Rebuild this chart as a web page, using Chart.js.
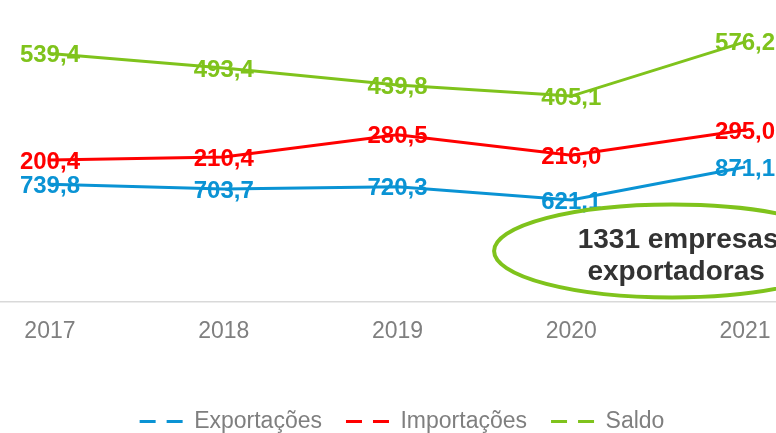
<!DOCTYPE html>
<html>
<head>
<meta charset="utf-8">
<script src="https://cdn.jsdelivr.net/npm/chart.js@4.4.1/dist/chart.umd.min.js"></script>
<style>
    html, body { margin: 0; padding: 0; background: #fff; }
</style>
</head>
<body>
<canvas id="myChart" width="776" height="433"></canvas>
<script>
//--- Dados
var anos = [2017, 2018, 2019, 2020, 2021];
var exportacoes = [739.8, 703.7, 720.3, 621.1, 871.1];
var importacoes = [200.4, 210.4, 280.5, 216.0, 295.0];
var saldo = [539.4, 493.4, 439.8, 405.1, 576.2];
var nomes = ['Exportações', 'Importações', 'Saldo'];
var cores = ['#0a93d4', '#ff0000', '#7fc31c'];
var nota = ['1331 empresas', 'exportadoras'];

var fonte = '"Liberation Sans", Arial, Helvetica, sans-serif';
var eixoBase = 302; // linha do eixo x
var padBaixo = -10, padDir = -28;

function pontos(valores) {
    return valores.map(function (v, i) { return { x: anos[i], y: v }; });
}

// rótulos de valor por cima das linhas
var rotulosPlugin = {
    id: 'rotulos',
    afterDatasetsDraw: function (chart) {
        var ctx = chart.ctx;
        ctx.save();
        ctx.font = 'bold 24px ' + fonte;
        ctx.textAlign = 'center';
        ctx.textBaseline = 'middle';
        chart.data.datasets.forEach(function (ds, i) {
            var meta = chart.getDatasetMeta(i);
            meta.data.forEach(function (pt, j) {
                ctx.fillStyle = ds.borderColor;
                ctx.fillText(ds.data[j].y.toFixed(1).replace('.', ','), pt.x, pt.y + 2);
            });
        });
        ctx.restore();
    }
};

// elipse com a nota das empresas
var notaPlugin = {
    id: 'nota',
    afterDraw: function (chart) {
        var ctx = chart.ctx;
        var x = chart.scales.x;
        var cx = x.getPixelForValue(2020.58);
        var cy = chart.chartArea.bottom - 51;
        ctx.save();
        ctx.beginPath();
        ctx.ellipse(cx, cy, 178, 46.5, 0, 0, Math.PI * 2);
        ctx.lineWidth = 4;
        ctx.strokeStyle = cores[2];
        ctx.stroke();
        ctx.fillStyle = '#333333';
        ctx.font = 'bold 28px ' + fonte;
        ctx.textAlign = 'center';
        ctx.textBaseline = 'middle';
        ctx.fillText(nota[0], cx + 6, cy - 11);
        ctx.fillText(nota[1], cx + 4, cy + 21);
        ctx.restore();
    }
};

var ctx = document.getElementById('myChart');
new Chart(ctx, {
    type: 'line',
    data: {
        datasets: [
            { label: nomes[0], data: pontos(exportacoes), borderColor: cores[0], backgroundColor: cores[0], yAxisID: 'y1' },
            { label: nomes[1], data: pontos(importacoes), borderColor: cores[1], backgroundColor: cores[1], yAxisID: 'y2' },
            { label: nomes[2], data: pontos(saldo), borderColor: cores[2], backgroundColor: cores[2], yAxisID: 'y3' }
        ]
    },
    options: {
        responsive: false,
        animation: false,
        layout: { padding: { left: 0, top: 0, right: padDir, bottom: padBaixo } },
        elements: {
            line: { borderWidth: 3, tension: 0 },
            point: { radius: 0, hoverRadius: 0 }
        },
        plugins: {
            tooltip: { enabled: false },
            legend: {
                position: 'bottom',
                labels: {
                    usePointStyle: true,
                    pointStyleWidth: 43,
                    padding: 24,
                    color: '#7f7f7f',
                    font: { family: fonte, size: 23 },
                    generateLabels: function (chart) {
                        return chart.data.datasets.map(function (ds, i) {
                            return {
                                text: ds.label,
                                fillStyle: 'rgba(0,0,0,0)',
                                strokeStyle: ds.borderColor,
                                fontColor: '#7f7f7f',
                                lineWidth: 3,
                                lineDash: [16, 11],
                                pointStyle: 'line',
                                hidden: false,
                                datasetIndex: i
                            };
                        });
                    }
                }
            }
        },
        scales: {
            x: {
                type: 'linear',
                min: 2016.7126,
                max: 2021.178,
                grid: { display: false, drawTicks: false },
                border: { display: true, color: '#d9d9d9', width: 1.5 },
                ticks: {
                    stepSize: 1,
                    includeBounds: false,
                    padding: 16,
                    color: '#7f7f7f',
                    font: { family: fonte, size: 23 },
                    callback: function (v) { return String(v); }
                },
                afterFit: function (scale) {
                    scale.paddingLeft = 0;
                    scale.paddingRight = 0;
                    scale.height = scale.chart.height - padBaixo - eixoBase - scale.chart.legend.height;
                }
            },
            y1: { display: false, min: -152, max: 2136 },
            y2: { display: false, min: -248, max: 706 },
            y3: { display: false, min: -244, max: 708 }
        }
    },
    plugins: [rotulosPlugin, notaPlugin]
});
</script>
</body>
</html>
